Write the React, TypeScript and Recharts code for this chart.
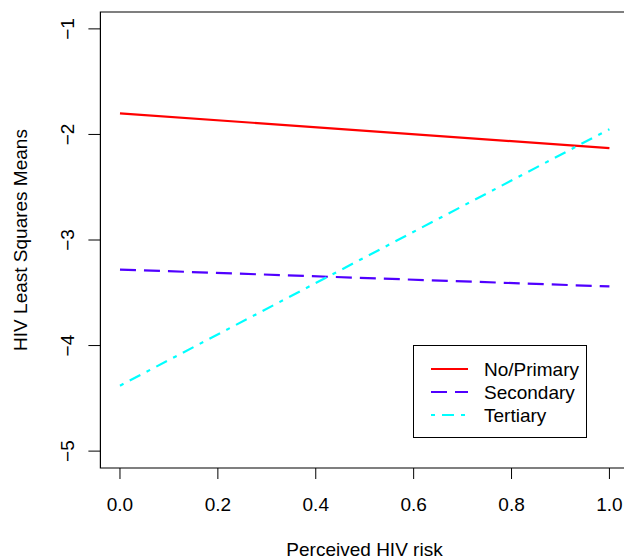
import React from "react";
import { LineChart, Line, XAxis, YAxis, ReferenceArea, Legend } from "recharts";

const riskValues = [0, 1];
const noPrimary = [-1.8, -2.13];
const secondary = [-3.28, -3.44];
const tertiary = [-4.38, -1.95];
const xTicks = [0, 0.2, 0.4, 0.6, 0.8, 1.0];
const yTicks = [-5, -4, -3, -2, -1];
const seriesNames = ["No/Primary", "Secondary", "Tertiary"];
const seriesColors = ["#FF0000", "#5000FF", "#00FFFF"];
const seriesDash = ["0", "16 8", "4 7 12 7"];

const data = riskValues.map((x, i) => ({
  x,
  noPrimary: noPrimary[i],
  secondary: secondary[i],
  tertiary: tertiary[i],
}));

const FONT = "'Liberation Sans', Arial, Helvetica, sans-serif";
const FS = 19;

const fmtMinus = (v: number) => (v < 0 ? "\u2212" + Math.abs(v) : String(v));

const XTick = (props: any) => {
  const { x, payload } = props;
  return (
    <text x={x} y={511} textAnchor="middle" fontFamily={FONT} fontSize={FS} fill="#000">
      {payload.value.toFixed(1)}
    </text>
  );
};

const YTick = (props: any) => {
  const { y, payload } = props;
  return (
    <text
      x={74}
      y={y}
      textAnchor="middle"
      fontFamily={FONT}
      fontSize={FS}
      fill="#000"
      transform={`rotate(-90, 74, ${y})`}
    >
      {fmtMinus(payload.value)}
    </text>
  );
};

const XLabel = () => (
  <text x={364.5} y={555.5} textAnchor="middle" fontFamily={FONT} fontSize={FS} fill="#000">
    Perceived HIV risk
  </text>
);

const YLabel = () => (
  <text
    x={27}
    y={240}
    textAnchor="middle"
    fontFamily={FONT}
    fontSize={FS}
    fill="#000"
    transform="rotate(-90, 27, 240)"
  >
    HIV Least Squares Means
  </text>
);

const LegendBox = () => (
  <div
    style={{
      width: 174,
      height: 93,
      border: "1px solid #000",
      boxSizing: "border-box",
      background: "#fff",
      position: "relative",
      fontFamily: FONT,
      fontSize: FS,
    }}
  >
    <svg width={172} height={91} style={{ position: "absolute", left: 0, top: 0 }}>
      {seriesNames.map((name, i) => {
        const cy = 23 + i * 23;
        return (
          <g key={name}>
            <line
              x1={17}
              x2={54}
              y1={cy}
              y2={cy}
              stroke={seriesColors[i]}
              strokeWidth={2.2}
              strokeDasharray={seriesDash[i]}
            />
            <text x={70} y={cy + 7} fontFamily={FONT} fontSize={FS} fill="#000">
              {name}
            </text>
          </g>
        );
      })}
    </svg>
  </div>
);

export default function App() {
  return (
    <div
      style={{
        position: "absolute",
        left: 0,
        top: 0,
        width: 624,
        height: 558,
        overflow: "hidden",
        background: "#fff",
      }}
    >
      <LineChart width={629} height={558} data={data} margin={{ top: 12, right: 0, bottom: 0, left: 0.4 }}>
        <XAxis
          dataKey="x"
          type="number"
          domain={[-0.04, 1.04]}
          ticks={xTicks}
          allowDataOverflow
          height={90}
          axisLine={false}
          tickSize={11}
          tickLine={{ stroke: "#000", strokeWidth: 1 }}
          tick={<XTick />}
          label={<XLabel />}
          interval={0}
        />
        <YAxis
          type="number"
          domain={[-5.16, -0.84]}
          ticks={yTicks}
          allowDataOverflow
          width={100}
          axisLine={false}
          tickSize={12}
          tickLine={{ stroke: "#000", strokeWidth: 1 }}
          tick={<YTick />}
          label={<YLabel />}
          interval={0}
        />
        <ReferenceArea
          x1={-0.04}
          x2={1.04}
          y1={-5.16}
          y2={-0.84}
          fill="none"
          fillOpacity={0}
          stroke="#000"
          strokeWidth={1.2}
          ifOverflow="visible"
        />
        <Line
          dataKey="noPrimary"
          name={seriesNames[0]}
          stroke={seriesColors[0]}
          strokeWidth={2.2}
          dot={false}
          isAnimationActive={false}
        />
        <Line
          dataKey="secondary"
          name={seriesNames[1]}
          stroke={seriesColors[1]}
          strokeWidth={2.2}
          strokeDasharray={seriesDash[1]}
          dot={false}
          isAnimationActive={false}
        />
        <Line
          dataKey="tertiary"
          name={seriesNames[2]}
          stroke={seriesColors[2]}
          strokeWidth={2.2}
          strokeDasharray={seriesDash[2]}
          dot={false}
          isAnimationActive={false}
        />
        <Legend
          layout="horizontal"
          verticalAlign="middle"
          align="center"
          content={() => <LegendBox />}
          wrapperStyle={{ position: "absolute", left: 413, top: 345, width: 174, height: 93 }}
        />
      </LineChart>
    </div>
  );
}
